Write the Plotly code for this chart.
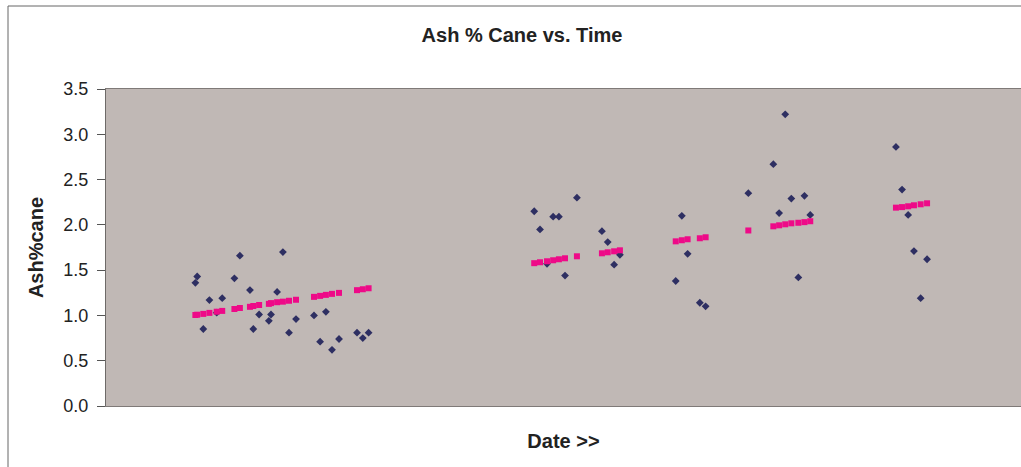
import plotly.graph_objects as go

# Sampling day (days since start of season) for each cane sample
day = [
    29.3, 29.9, 31.9, 33.9, 36.3, 38.1, 42.1, 43.9, 47.2, 48.3, 50.2, 53.4, 54.1,
    56.1, 58.0, 60.0, 62.3, 68.2, 70.2, 72.1, 74.1, 76.4, 82.3, 84.2, 86.1,
    140.4, 142.3, 144.6, 146.6, 148.5, 150.5, 154.4, 162.6, 164.5, 166.6, 168.5,
    186.8, 188.8, 190.7, 194.7, 196.6,
    210.6, 218.8, 220.7, 222.7, 224.7, 227.0, 229.0, 230.9,
    259.0, 261.0, 263.0, 264.9, 267.1, 269.2,
]

# Measured ash % cane
ash = [
    1.36, 1.43, 0.85, 1.17, 1.03, 1.19, 1.41, 1.66, 1.28, 0.85, 1.01, 0.94, 1.01,
    1.26, 1.70, 0.81, 0.96, 1.00, 0.71, 1.04, 0.62, 0.74, 0.81, 0.75, 0.81,
    2.15, 1.95, 1.57, 2.09, 2.09, 1.44, 2.30, 1.93, 1.81, 1.56, 1.67,
    1.38, 2.10, 1.68, 1.14, 1.10,
    2.35, 2.67, 2.13, 3.22, 2.29, 1.42, 2.32, 2.11,
    2.86, 2.39, 2.11, 1.71, 1.19, 1.62,
]

# Trend value of ash % cane at each sampling day
trend = [
    1.005, 1.008, 1.017, 1.028, 1.041, 1.050, 1.071, 1.082, 1.095, 1.104, 1.115, 1.128, 1.136,
    1.146, 1.152, 1.162, 1.173, 1.205, 1.216, 1.227, 1.238, 1.249, 1.279, 1.289, 1.300,
    1.577, 1.587, 1.598, 1.609, 1.620, 1.631, 1.653, 1.686, 1.697, 1.708, 1.719,
    1.818, 1.830, 1.841, 1.852, 1.863,
    1.938, 1.984, 1.995, 2.006, 2.017, 2.023, 2.030, 2.040,
    2.190, 2.196, 2.205, 2.216, 2.227, 2.238,
]

FONT = "Liberation Sans, Arial, sans-serif"
TEXT = "#222222"

fig = go.Figure()
fig.add_trace(go.Scatter(
    x=day, y=ash, mode="markers", name="Ash%cane",
    marker=dict(symbol="diamond", size=6, color="#2E2F62", line=dict(width=0)),
))
fig.add_trace(go.Scatter(
    x=day, y=trend, mode="markers", name="Trend",
    marker=dict(symbol="square", size=6, color="#EE0A88", line=dict(width=0)),
))

fig.update_layout(
    width=1021, height=467,
    margin=dict(l=106, r=0, t=89, b=61),
    paper_bgcolor="white",
    plot_bgcolor="#C0B8B5",
    showlegend=False,
    font=dict(family=FONT, color=TEXT),
    title=dict(
        text="<b>Ash % Cane vs. Time</b>",
        x=522 / 1021, xanchor="center", xref="container",
        y=1 - 35 / 467, yanchor="middle", yref="container",
        font=dict(family=FONT, size=20, color=TEXT),
    ),
    xaxis=dict(
        range=[0, 300], showticklabels=False, ticks="", showgrid=False, zeroline=False,
        showline=True, linecolor="#7F7A78", linewidth=1, mirror=True,
        title=dict(text="<b>Date >></b>", font=dict(family=FONT, size=20, color=TEXT), standoff=27),
    ),
    yaxis=dict(
        range=[0, 3.5], dtick=0.5, tickformat=".1f", showgrid=False, zeroline=False,
        showline=True, linecolor="#6E6A68", linewidth=1,
        ticks="outside", ticklen=8, tickcolor="#555555", ticklabelstandoff=5,
        tickfont=dict(family=FONT, size=18, color=TEXT),
        title=dict(text="<b>Ash%cane</b>", font=dict(family=FONT, size=20, color=TEXT), standoff=14),
    ),
)

# Chart-area frame
fig.add_shape(
    type="rect", xref="paper", yref="paper",
    x0=(8 - 106) / 915, x1=1.02, y0=-0.25, y1=(406 - 6) / 317,
    line=dict(color="#666666", width=1), fillcolor="rgba(0,0,0,0)", layer="below",
)

fig.write_html("out.html")
